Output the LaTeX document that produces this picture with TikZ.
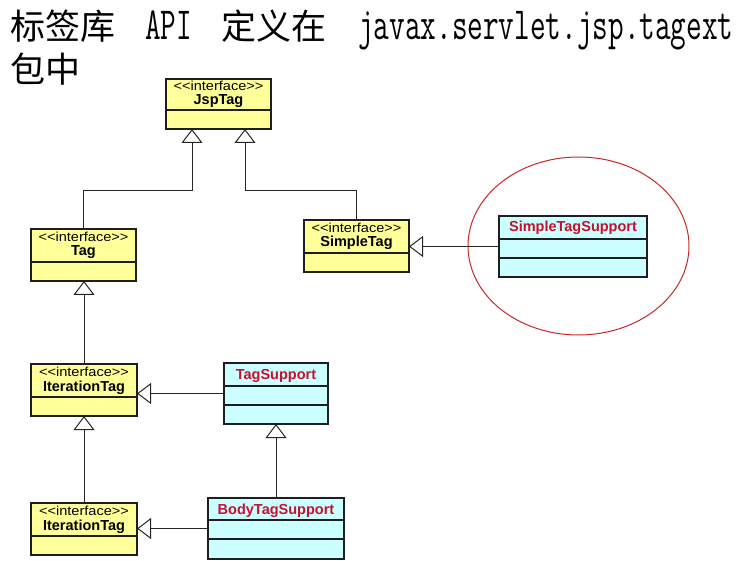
\documentclass[tikz,border=0pt]{standalone}
\usepackage{fontspec}
\usepackage{graphicx}
\setmainfont{Liberation Sans}
\newfontfamily\cjk{Noto Sans CJK SC}
\newfontfamily\stereofont[FakeStretch=1.12]{Liberation Sans}
\usetikzlibrary{arrows.meta,shapes.geometric}
\definecolor{ifill}{RGB}{255,255,153}
\definecolor{cfill}{RGB}{204,255,255}
\definecolor{cred}{RGB}{200,16,46}
\definecolor{boxline}{RGB}{30,30,30}
\definecolor{ellred}{RGB}{200,40,40}
\newcommand\stereotxt{<\kern0pt<interface>\kern0pt>}
\newcommand\narrow[1]{\scalebox{0.66}[1]{#1}}
\begin{document}
\begin{tikzpicture}[x=1pt,y=-1pt,
 uml/.style={draw=boxline,line width=1.2pt,inner sep=0pt,outer sep=0pt},
 ibox/.style={uml,fill=ifill,minimum width=105pt,minimum height=52pt},
 cbox/.style={uml,fill=cfill,minimum height=61pt},
 stereo/.style={anchor=base,inner sep=0pt,font=\stereofont\fontsize{13}{14}\selectfont},
 iname/.style={anchor=base,inner sep=0pt,font=\bfseries\fontsize{14.5}{16}\selectfont},
 cname/.style={iname,text=cred},
 divider/.style={draw=boxline,line width=1.2pt},
 inh/.style={draw=black!85,line width=1pt,-{Triangle[length=14pt,width=21pt,fill=white]}},
 ttl/.style={anchor=base west,inner sep=0pt},
 cjkf/.style={font=\cjk\fontsize{35}{35}\selectfont},
 latf/.style={font=\ttfamily\fontsize{46}{46}\selectfont}
]
\fill[white] (0,0) rectangle (744,561);
\useasboundingbox (0,0) rectangle (744,561);

% title
\node[ttl,cjkf] (t1a) at (10,40) {标签库};
\node[ttl,latf] (t1b) at (145,40) {\narrow{API}};
\node[ttl,cjkf] (t1c) at (221,40) {定义在};
\node[ttl,latf] (t1d) at (358,40) {\narrow{javax.servlet.jsp.tagext}};
\node[ttl,cjkf] (t2) at (10,83) {包中};

% highlight ellipse
\node[draw=ellred,line width=1pt,ellipse,minimum width=221pt,minimum height=178pt,inner sep=0pt] (hl) at (578.5,246) {};

% JspTag
\node[ibox,minimum height=50pt] (jsp) at (218.5,104) {};
\node[stereo] (jspS) at ([yshift=-11.5pt]jsp.north) {\stereotxt};
\node[iname] (jspN) at ([yshift=-26pt]jsp.north) {JspTag};
\draw[divider] ([yshift=-31pt]jsp.north west) -- ([yshift=-31pt]jsp.north east);

% Tag
\node[ibox] (tag) at (83.5,255) {};
\node[stereo] (tagS) at ([yshift=-12.5pt]tag.north) {\stereotxt};
\node[iname] (tagN) at ([yshift=-27pt]tag.north) {Tag};
\draw[divider] ([yshift=-33pt]tag.north west) -- ([yshift=-33pt]tag.north east);

% SimpleTag
\node[ibox] (simple) at (356.5,246) {};
\node[stereo] (simpleS) at ([yshift=-12.5pt]simple.north) {\stereotxt};
\node[iname] (simpleN) at ([yshift=-27pt]simple.north) {SimpleTag};
\draw[divider] ([yshift=-33pt]simple.north west) -- ([yshift=-33pt]simple.north east);

% IterationTag (upper)
\node[ibox,minimum width=106pt] (iterA) at (84,390) {};
\node[stereo] (iterAS) at ([yshift=-12.5pt]iterA.north) {\stereotxt};
\node[iname] (iterAN) at ([yshift=-27pt]iterA.north) {IterationTag};
\draw[divider] ([yshift=-33pt]iterA.north west) -- ([yshift=-33pt]iterA.north east);

% IterationTag (lower)
\node[ibox,minimum width=106pt] (iterB) at (84,529) {};
\node[stereo] (iterBS) at ([yshift=-12.5pt]iterB.north) {\stereotxt};
\node[iname] (iterBN) at ([yshift=-27pt]iterB.north) {IterationTag};
\draw[divider] ([yshift=-33pt]iterB.north west) -- ([yshift=-33pt]iterB.north east);

% TagSupport
\node[cbox,minimum width=104pt] (tagsup) at (276,393.5) {};
\node[cname] (tagsupN) at ([yshift=-16pt]tagsup.north) {TagSupport};
\draw[divider] ([yshift=-23pt]tagsup.north west) -- ([yshift=-23pt]tagsup.north east);
\draw[divider] ([yshift=-42pt]tagsup.north west) -- ([yshift=-42pt]tagsup.north east);

% BodyTagSupport
\node[cbox,minimum width=136pt] (body) at (276,528.5) {};
\node[cname] (bodyN) at ([yshift=-16pt]body.north) {BodyTagSupport};
\draw[divider] ([yshift=-22pt]body.north west) -- ([yshift=-22pt]body.north east);
\draw[divider] ([yshift=-41pt]body.north west) -- ([yshift=-41pt]body.north east);

% SimpleTagSupport
\node[cbox,minimum width=148pt] (sts) at (573,246.5) {};
\node[cname] (stsN) at ([yshift=-16pt]sts.north) {SimpleTagSupport};
\draw[divider] ([yshift=-23pt]sts.north west) -- ([yshift=-23pt]sts.north east);
\draw[divider] ([yshift=-42pt]sts.north west) -- ([yshift=-42pt]sts.north east);

% connectors
\coordinate (jl) at (192,191);
\coordinate (jr) at (245,191);
\draw[inh] (tag.north) |- (jl) -- (jl |- jsp.south);
\draw[inh] (simple.north) |- (jr) -- (jr |- jsp.south);
\draw[inh] (sts.west) -- (sts.west -| simple.east);
\draw[inh] (iterA.north) -- (iterA.north |- tag.south);
\draw[inh] (tagsup.west) -- (tagsup.west -| iterA.east);
\draw[inh] (iterB.north) -- (iterB.north |- iterA.south);
\draw[inh] (body.north) -- (body.north |- tagsup.south);
\draw[inh] (body.west) -- (body.west -| iterB.east);
\end{tikzpicture}
\end{document}
